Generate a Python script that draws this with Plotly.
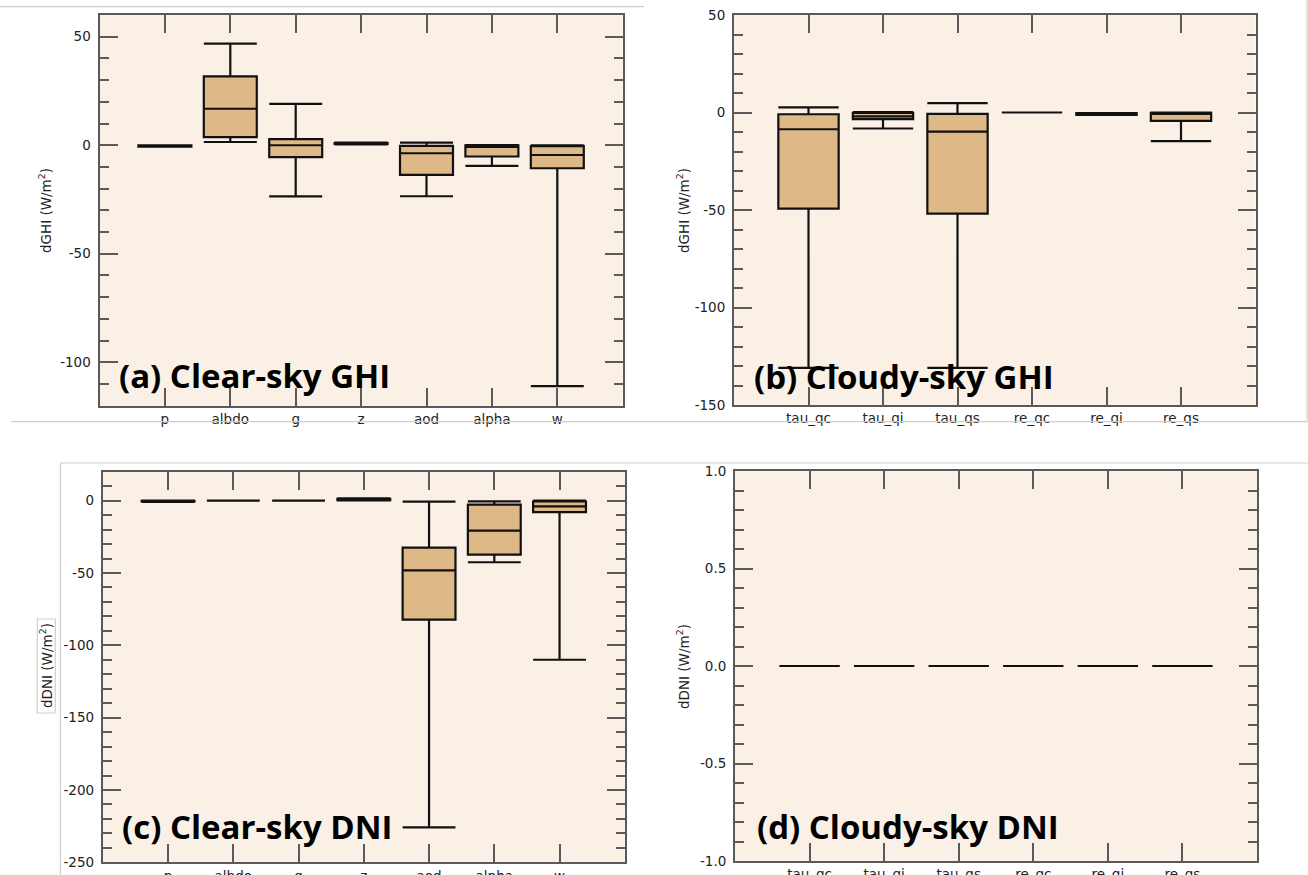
import plotly.graph_objects as go

# ---- categories ----
clear_cats = ["p", "albdo", "g", "z", "aod", "alpha", "w"]
cloud_cats = ["tau_qc", "tau_qi", "tau_qs", "re_qc", "re_qi", "re_qs"]

# ---- box statistics (W/m^2): lower whisker, Q1, median, Q3, upper whisker ----
ghi_clear_low = [-0.7, 1.5, -23.6, 0.4, -23.5, -9.5, -111.0]
ghi_clear_q1 = [-0.6, 3.7, -5.5, 0.6, -13.7, -5.2, -10.6]
ghi_clear_med = [-0.3, 16.8, 0.0, 0.8, -3.7, -0.8, -4.5]
ghi_clear_q3 = [-0.1, 31.7, 2.8, 1.0, -0.3, -0.1, -0.4]
ghi_clear_high = [0.0, 46.8, 19.1, 1.2, 1.2, 0.1, 0.0]

ghi_cloud_low = [-131.0, -8.2, -131.0, 0.0, -1.2, -14.7]
ghi_cloud_q1 = [-49.3, -3.4, -51.9, 0.0, -1.2, -4.3]
ghi_cloud_med = [-8.6, -2.0, -9.8, 0.0, -0.7, -0.5]
ghi_cloud_q3 = [-0.9, -0.2, -0.7, 0.0, -0.3, -0.2]
ghi_cloud_high = [2.6, 0.2, 4.8, 0.0, -0.3, 0.0]

dni_clear_low = [-0.8, 0.0, 0.0, 0.2, -225.8, -42.6, -110.0]
dni_clear_q1 = [-0.6, 0.0, 0.0, 0.4, -82.3, -37.3, -8.0]
dni_clear_med = [-0.3, 0.0, 0.0, 0.8, -48.2, -20.7, -4.0]
dni_clear_q3 = [-0.1, 0.0, 0.0, 1.2, -32.5, -2.8, -0.6]
dni_clear_high = [0.0, 0.0, 0.0, 1.5, -0.7, -0.5, 0.0]

dni_cloud_low = [0.0, 0.0, 0.0, 0.0, 0.0, 0.0]
dni_cloud_q1 = [0.0, 0.0, 0.0, 0.0, 0.0, 0.0]
dni_cloud_med = [0.0, 0.0, 0.0, 0.0, 0.0, 0.0]
dni_cloud_q3 = [0.0, 0.0, 0.0, 0.0, 0.0, 0.0]
dni_cloud_high = [0.0, 0.0, 0.0, 0.0, 0.0, 0.0]

# ---- y tick values and labels ----
ticks_a = [-100, -50, 0, 50]
labels_a = ["-100", "-50", "0", "50"]
ticks_b = [-150, -100, -50, 0, 50]
labels_b = ["-150", "-100", "-50", "0", "50"]
ticks_c = [-250, -200, -150, -100, -50, 0]
labels_c = ["-250", "-200", "-150", "-100", "-50", "0"]
ticks_d = [-1.0, -0.5, 0.0, 0.5, 1.0]
labels_d = ["-1.0", "-0.5", "0.0", "0.5", "1.0"]

panel_titles = ["(a) Clear-sky GHI", "(b) Cloudy-sky GHI",
                "(c) Clear-sky DNI", "(d) Cloudy-sky DNI"]
y_titles = ["dGHI (W/m<sup>2</sup>)", "dGHI (W/m<sup>2</sup>)",
            "dDNI (W/m<sup>2</sup>)", "dDNI (W/m<sup>2</sup>)"]

W, H = 1308, 875
BG = "#FAF0E6"      # linen
FILL = "#DEB887"    # burlywood
FRAME = "#5a5a5a"
TXT = "#222222"
SEP = "#cfcfcf"


def px(x):
    return x / W


def py(y):
    return 1 - y / H


fig = go.Figure()

panels = [
    dict(cats=clear_cats, low=ghi_clear_low, q1=ghi_clear_q1, med=ghi_clear_med,
         q3=ghi_clear_q3, high=ghi_clear_high, xr=[99.5, 622.7], yr=[15, 405.7],
         rng=[-120, 60], tv=ticks_a, tt=labels_a, minor=10),
    dict(cats=cloud_cats, low=ghi_cloud_low, q1=ghi_cloud_q1, med=ghi_cloud_med,
         q3=ghi_cloud_q3, high=ghi_cloud_high, xr=[734, 1255.5], yr=[15, 405],
         rng=[-150, 50], tv=ticks_b, tt=labels_b, minor=10),
    dict(cats=clear_cats, low=dni_clear_low, q1=dni_clear_q1, med=dni_clear_med,
         q3=dni_clear_q3, high=dni_clear_high, xr=[102.8, 624.8], yr=[471.7, 862.3],
         rng=[-250, 20], tv=ticks_c, tt=labels_c, minor=10),
    dict(cats=cloud_cats, low=dni_cloud_low, q1=dni_cloud_q1, med=dni_cloud_med,
         q3=dni_cloud_q3, high=dni_cloud_high, xr=[735, 1257], yr=[471, 861],
         rng=[-1, 1], tv=ticks_d, tt=labels_d, minor=0.1),
]

for i, p in enumerate(panels):
    n = i + 1
    xa = "x" if n == 1 else f"x{n}"
    ya = "y" if n == 1 else f"y{n}"
    fig.add_trace(go.Box(
        x=p["cats"], q1=p["q1"], median=p["med"], q3=p["q3"],
        lowerfence=p["low"], upperfence=p["high"],
        boxpoints=False, width=0.81, whiskerwidth=1,
        fillcolor=FILL, line=dict(color="#111111", width=2.2),
        showlegend=False, hoverinfo="skip", xaxis=xa, yaxis=ya,
    ))
    ncat = len(p["cats"])
    xkey = "xaxis" if n == 1 else f"xaxis{n}"
    ykey = "yaxis" if n == 1 else f"yaxis{n}"
    fig.layout[xkey] = dict(
        domain=[px(p["xr"][0]), px(p["xr"][1])], anchor=ya,
        type="category", categoryorder="array", categoryarray=p["cats"],
        range=[-1, ncat], showgrid=False, zeroline=False, automargin=False,
        showline=True, linecolor=FRAME, linewidth=2, mirror="ticks",
        ticks="inside", ticklen=18, tickwidth=2, tickcolor=FRAME,
        tickfont=dict(family="DejaVu Sans", size=13.5, color=TXT),
        ticklabelstandoff=0, fixedrange=True,
    )
    fig.layout[ykey] = dict(
        domain=[py(p["yr"][1]), py(p["yr"][0])], anchor=xa,
        range=p["rng"], showgrid=False, zeroline=False, automargin=False,
        showline=True, linecolor=FRAME, linewidth=2, mirror="ticks",
        tickmode="array", tickvals=p["tv"], ticktext=p["tt"],
        ticks="inside", ticklen=18, tickwidth=2, tickcolor=FRAME,
        minor=dict(tickmode="linear", tick0=0, dtick=p["minor"], ticks="inside",
                   ticklen=9, tickwidth=2, tickcolor=FRAME, showgrid=False),
        tickfont=dict(family="DejaVu Sans", size=13.5, color=TXT),
        ticklabelstandoff=4, fixedrange=True,
    )
    # plot-area background
    fig.add_shape(type="rect", xref="paper", yref="paper",
                  x0=px(p["xr"][0]), x1=px(p["xr"][1]),
                  y0=py(p["yr"][1]), y1=py(p["yr"][0]),
                  fillcolor=BG, line=dict(width=0), layer="below")

# y-axis titles
title_pos = [(45, 211), (683, 211), (46, 666), (683, 667)]
for (tx, ty), t in zip(title_pos, y_titles):
    fig.add_annotation(x=px(tx), y=py(ty), xref="paper", yref="paper",
                       text=t, textangle=-90, showarrow=False,
                       xanchor="center", yanchor="middle",
                       font=dict(family="DejaVu Sans", size=13.5, color=TXT))

# panel labels
label_pos = [(117, 375), (752, 376), (120, 826), (755, 826)]
for (tx, ty), t in zip(label_pos, panel_titles):
    fig.add_annotation(x=px(tx), y=py(ty), xref="paper", yref="paper",
                       text=t, showarrow=False, xanchor="left", yanchor="middle",
                       font=dict(family="Open Sans", size=33, color="#000000",
                                 weight=700))

# thin separators between the four figure parts
seps = [
    (0, 6.7, 644, 6.7),
    (11, 421.7, 1307, 421.7),
    (1307, 0, 1307, 421.7),
    (60, 463, 1308, 463),
    (60.5, 463, 60.5, 875),
]
for x0, y0, x1, y1 in seps:
    fig.add_shape(type="line", xref="paper", yref="paper",
                  x0=px(x0), y0=py(y0), x1=px(x1), y1=py(y1),
                  line=dict(color=SEP, width=1.2))
# frame around the dDNI title of panel (c)
fig.add_shape(type="rect", xref="paper", yref="paper",
              x0=px(37.3), x1=px(55.3), y0=py(713), y1=py(619),
              line=dict(color=SEP, width=1.2))

fig.update_layout(
    width=W, height=H, margin=dict(l=0, r=0, t=0, b=0, autoexpand=False),
    paper_bgcolor="white", plot_bgcolor="rgba(0,0,0,0)",
    showlegend=False,
)

fig.write_html("out.html", config={"displayModeBar": False})
